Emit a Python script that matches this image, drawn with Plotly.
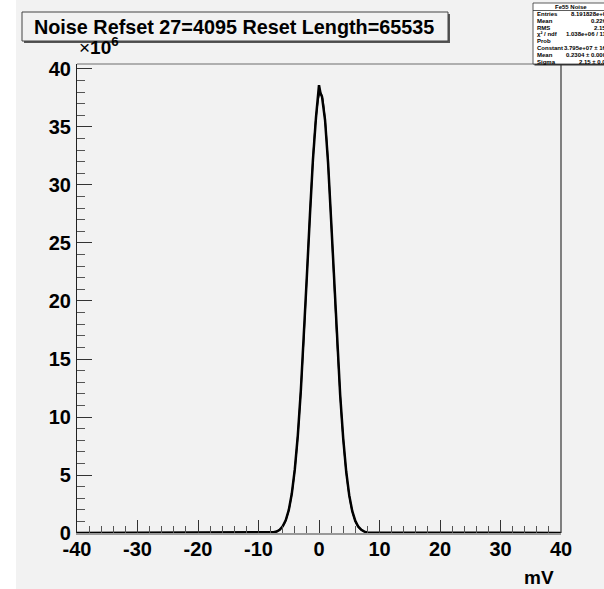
import plotly.graph_objects as go

# ---------------- data (y in units of 1e6 counts) ----------------
hist_mv = [-40, -8, -7.5, -7, -6.5, -6, -5.5, -5, -4.5, -4, -3.5, -3, -2.5, -2, -1.5, -1,
           -0.5, -0.25, 0, 0.25, 0.5, 1, 1.5, 2, 2.5, 3, 3.5, 4, 4.5, 5, 5.5, 6, 6.5, 7,
           7.5, 8, 40]
hist_counts = [0, 0.03, 0.06, 0.13, 0.28, 0.57, 1.09, 1.97, 3.38, 5.48, 8.42, 12.3, 16.9,
               22.2, 27.4, 32.2, 35.8, 37.2, 38.6, 37.9, 37.6, 35.6, 31.9, 27.0, 21.7, 16.5,
               11.9, 8.16, 5.28, 3.24, 1.88, 1.04, 0.54, 0.27, 0.12, 0.05, 0]

fit_mv = [-8, -7.5, -7, -6.5, -6, -5.5, -5, -4.5, -4, -3.5, -3, -2.5, -2, -1.5, -1, -0.5,
          0, 0.23, 0.5, 1, 1.5, 2, 2.5, 3, 3.5, 4, 4.5, 5, 5.5, 6, 6.5, 7, 7.5, 8]
fit_counts = [0.03, 0.06, 0.13, 0.28, 0.57, 1.09, 1.97, 3.38, 5.48, 8.42, 12.3, 16.9, 22.2,
              27.4, 32.2, 35.8, 37.7, 37.95, 37.65, 35.6, 31.9, 27.0, 21.7, 16.5, 11.9, 8.16,
              5.28, 3.24, 1.88, 1.04, 0.54, 0.27, 0.12, 0.05]

x_ticks = [-40, -30, -20, -10, 0, 10, 20, 30, 40]
y_ticks = [0, 5, 10, 15, 20, 25, 30, 35, 40]

title_text = "Noise Refset 27=4095 Reset Length=65535"
stats_title = "Fe55 Noise"
stats_names = ["Entries", "Mean", "RMS", "\u03c7\u00b2 / ndf", "Prob", "Constant", "Mean", "Sigma"]
stats_values = ["8.191828e+08", "0.2263", "2.158", "1.038e+06 / 114", "0",
                "3.795e+07 \u00b1 160", "0.2304 \u00b1 0.0001", "2.15 \u00b1 0.00"]

# ---------------- layout geometry ----------------
W, H = 604, 589
L, R, T, B = 77, 561, 64, 533
PW, PH = R - L, B - T


def px(x):
    return (x - L) / PW


def py(y):
    return (B - y) / PH


FONT = "Liberation Sans, Arial, Helvetica, sans-serif"
BG = "#f2f2f2"

fig = go.Figure()
fig.add_trace(go.Scatter(x=hist_mv, y=hist_counts, mode="lines",
                         line=dict(color="black", width=2.5), hoverinfo="skip"))
fig.add_trace(go.Scatter(x=fit_mv, y=fit_counts, mode="lines",
                         line=dict(color="black", width=1.5, shape="spline"), hoverinfo="skip"))

shapes = []
# grey canvas (white strip at far left)
shapes.append(dict(type="rect", xref="paper", yref="paper", x0=px(16), x1=px(W + 20),
                   y0=py(H + 20), y1=py(-20), fillcolor=BG, line=dict(width=0), layer="below"))
# frame: top grey, right dark
shapes.append(dict(type="line", xref="paper", yref="paper", x0=0, x1=1, y0=1, y1=1,
                   line=dict(color="#999999", width=1.5)))
shapes.append(dict(type="line", xref="paper", yref="paper", x0=1, x1=1, y0=0, y1=1,
                   line=dict(color="#333333", width=1.2)))
# title box with shadow
tx0, tx1, ty0, ty1 = 22, 448, 12, 41
shapes.append(dict(type="rect", xref="paper", yref="paper", x0=px(tx0 + 2), x1=px(tx1 + 2),
                   y0=py(ty1 + 2), y1=py(ty0 + 2), fillcolor="#555555", line=dict(width=0)))
shapes.append(dict(type="rect", xref="paper", yref="paper", x0=px(tx0), x1=px(tx1),
                   y0=py(ty1), y1=py(ty0), fillcolor=BG, line=dict(color="#444444", width=1)))
# stats box with shadow
sx0, sx1, sy0, sy1 = 533, 640, 3, 64
shapes.append(dict(type="rect", xref="paper", yref="paper", x0=px(sx0 + 1.5), x1=px(sx1),
                   y0=py(sy1 + 1.5), y1=py(sy0 + 1.5), fillcolor="#333333", line=dict(width=0)))
shapes.append(dict(type="rect", xref="paper", yref="paper", x0=px(sx0), x1=px(sx1),
                   y0=py(sy1), y1=py(sy0), fillcolor="white", line=dict(color="#333333", width=0.8)))
shapes.append(dict(type="line", xref="paper", yref="paper", x0=px(sx0), x1=px(sx1),
                   y0=py(10.5), y1=py(10.5), line=dict(color="#333333", width=0.8)))

annotations = []
annotations.append(dict(xref="paper", yref="paper", x=px((tx0 + tx1) / 2 - 1), y=py(27),
                        text="<b>%s</b>" % title_text, showarrow=False, xanchor="center",
                        yanchor="middle", font=dict(family=FONT, size=19.8, color="black")))
annotations.append(dict(xref="paper", yref="paper", x=px(77), y=py(46),
                        text="\u00d7<b>10<sup>6</sup></b>", showarrow=False, xanchor="left",
                        yanchor="middle", font=dict(family=FONT, size=19, color="black")))
annotations.append(dict(xref="paper", yref="paper", x=px(556), y=py(577),
                        text="<b>mV</b>", showarrow=False, xanchor="right",
                        yanchor="middle", font=dict(family=FONT, size=19, color="black")))
annotations.append(dict(xref="paper", yref="paper", x=px(571), y=py(6.8),
                        text="<b>%s</b>" % stats_title, showarrow=False, xanchor="center",
                        yanchor="middle", font=dict(family=FONT, size=6, color="black")))
for i, (n, v) in enumerate(zip(stats_names, stats_values)):
    yy = 14 + i * 6.8
    annotations.append(dict(xref="paper", yref="paper", x=px(535), y=py(yy),
                            text="<b>%s</b>" % n, showarrow=False, xanchor="left",
                            yanchor="middle", font=dict(family=FONT, size=6, color="black")))
    annotations.append(dict(xref="paper", yref="paper", x=px(612), y=py(yy),
                            text="<b>%s</b>" % v, showarrow=False, xanchor="right",
                            yanchor="middle", font=dict(family=FONT, size=6, color="black")))

fig.update_layout(
    width=W, height=H,
    margin=dict(l=L, r=W - R, t=T, b=H - B, pad=0),
    paper_bgcolor="white",
    plot_bgcolor="rgba(0,0,0,0)",
    showlegend=False,
    shapes=shapes,
    annotations=annotations,
    xaxis=dict(range=[-40, 40], tickvals=x_ticks, ticktext=[str(v) for v in x_ticks],
               ticks="inside", ticklen=13, tickwidth=1, tickcolor="#333333",
               minor=dict(dtick=2, ticks="inside", ticklen=7, tickcolor="#555555", showgrid=False),
               showline=True, linecolor="#999999", linewidth=1.5, showgrid=False, zeroline=False,
               tickfont=dict(family=FONT, size=20, color="black", weight="bold"),
               ticklabelstandoff=-3),
    yaxis=dict(range=[0, 40.43], tickvals=y_ticks, ticktext=[str(v) for v in y_ticks],
               ticks="inside", ticklen=15, tickwidth=1, tickcolor="#333333",
               minor=dict(dtick=1, ticks="inside", ticklen=8, tickcolor="#555555", showgrid=False),
               showline=True, linecolor="#222222", linewidth=1.2, showgrid=False, zeroline=False,
               tickfont=dict(family=FONT, size=20, color="black", weight="bold"),
               ticklabelstandoff=1),
)

fig.write_html("out.html", config={"displayModeBar": False},
               post_script="document.body.style.margin='0';document.body.style.overflow='hidden';")
